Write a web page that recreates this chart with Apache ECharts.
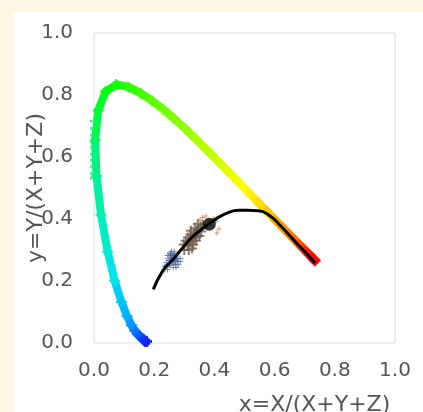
<!DOCTYPE html>
<html><head><meta charset="utf-8">
<script src="https://cdn.jsdelivr.net/npm/echarts@6/dist/echarts.min.js"></script>
<style>html,body{margin:0;padding:0;background:#fef5e3;}#c{width:423px;height:412px;}</style>
</head><body><div id="c"></div>
<script>
// Spectral locus (CIE 1931), wavelength in nm
const wavelengths = [380,385,390,395,400,405,410,415,420,425,430,435,440,445,450,455,460,465,470,475,480,485,490,495,500,505,510,515,520,525,530,535,540,545,550,555,560,565,570,575,580,585,590,595,600,605,610,615,620,625,630,635,640,645,650,655,660,670,680,700];
const locusX = [0.1741,0.1740,0.1738,0.1736,0.1733,0.1730,0.1726,0.1721,0.1714,0.1703,0.1689,0.1669,0.1644,0.1611,0.1566,0.1510,0.1440,0.1355,0.1241,0.1096,0.0913,0.0687,0.0454,0.0235,0.0082,0.0039,0.0139,0.0389,0.0743,0.1142,0.1547,0.1929,0.2296,0.2658,0.3016,0.3373,0.3731,0.4087,0.4441,0.4788,0.5125,0.5448,0.5752,0.6029,0.6270,0.6482,0.6658,0.6801,0.6915,0.7006,0.7079,0.7140,0.7190,0.7230,0.7260,0.7283,0.7300,0.7320,0.7334,0.7347];
const locusY = [0.0050,0.0050,0.0049,0.0049,0.0048,0.0048,0.0048,0.0048,0.0051,0.0058,0.0069,0.0086,0.0109,0.0138,0.0177,0.0227,0.0297,0.0399,0.0578,0.0868,0.1327,0.2007,0.2950,0.4127,0.5384,0.6548,0.7502,0.8120,0.8338,0.8262,0.8059,0.7816,0.7543,0.7243,0.6923,0.6589,0.6245,0.5896,0.5547,0.5202,0.4866,0.4544,0.4242,0.3965,0.3725,0.3514,0.3340,0.3197,0.3083,0.2993,0.2920,0.2859,0.2809,0.2770,0.2740,0.2717,0.2700,0.2680,0.2666,0.2653];
// stray small dots left of the locus
const strayWl = [508,507,506,505,504,503,502,501,500,499];
const strayX = [-0.009,-0.009,-0.009,-0.009,-0.009,-0.009,-0.009,-0.009,-0.009,-0.009];
const strayY = [0.716,0.693,0.671,0.649,0.631,0.609,0.590,0.569,0.547,0.531];
// Black curve
const curveX = [0.197,0.230,0.263,0.297,0.330,0.374,0.408,0.452,0.480,0.507,0.546,0.585,0.618,0.650,0.684,0.710,0.734];
const curveY = [0.173,0.235,0.270,0.310,0.345,0.378,0.402,0.423,0.428,0.428,0.427,0.410,0.380,0.347,0.311,0.285,0.258];
// Black point
const dotX = [0.383];
const dotY = [0.383];
// Sample clusters
const blueX = [0.245,0.255,0.262,0.270,0.258,0.275,0.268,0.250,0.282,0.240,0.262];
const blueY = [0.255,0.262,0.270,0.276,0.285,0.258,0.248,0.278,0.268,0.242,0.290];
const brownX = [0.300,0.310,0.318,0.325,0.332,0.340,0.345,0.315,0.330,0.338,0.305,0.320,0.350,0.355,0.335,0.345,0.312,0.326,0.298,0.340,0.356,0.322,0.362];
const brownY = [0.300,0.315,0.325,0.335,0.345,0.355,0.365,0.300,0.318,0.330,0.330,0.350,0.345,0.375,0.370,0.385,0.340,0.305,0.318,0.340,0.360,0.362,0.380];
const orangeX = [0.360,0.372,0.405,0.415,0.408,0.398,0.352];
const orangeY = [0.405,0.410,0.392,0.368,0.355,0.402,0.396];
const tickValues = [0,0.2,0.4,0.6,0.8,1.0];

// colour of the locus by wavelength
const stops = [[380,'#2010ff'],[450,'#1030ff'],[460,'#0060ff'],[470,'#0090ff'],[480,'#00c0ff'],[485,'#00dcf2'],[490,'#00ecd8'],[495,'#00f0b4'],[500,'#00f094'],[505,'#00f470'],[510,'#00fc30'],[520,'#10ff00'],[530,'#40ff00'],[545,'#80ff00'],[560,'#b8ff00'],[570,'#e0ff00'],[578,'#ffff00'],[585,'#ffe400'],[592,'#ffc400'],[600,'#ff9c00'],[610,'#ff7000'],[620,'#ff4000'],[635,'#ff1000'],[700,'#ff0000']];
function hex(c){return [parseInt(c.substr(1,2),16),parseInt(c.substr(3,2),16),parseInt(c.substr(5,2),16)];}
function colorAt(w){
  if(w<=stops[0][0]) return stops[0][1];
  for(let i=1;i<stops.length;i++){
    if(w<=stops[i][0]){
      const a=hex(stops[i-1][1]), b=hex(stops[i][1]);
      const t=(w-stops[i-1][0])/(stops[i][0]-stops[i-1][0]);
      return 'rgb('+a.map((v,k)=>Math.round(v+(b[k]-v)*t)).join(',')+')';
    }
  }
  return stops[stops.length-1][1];
}

const locusPts = wavelengths.map((w,i)=>[locusX[i],locusY[i],w]);
const segs = [];
for(let i=0;i<locusPts.length-1;i++){
  segs.push({coords:[[locusX[i],locusY[i]],[locusX[i+1],locusY[i+1]]], lineStyle:{color:colorAt((wavelengths[i]+wavelengths[i+1])/2)}});
}
const plus = 'path://M4,0H6V4H10V6H6V10H4V6H0V4H4Z';
const hash = 'path://M3,0H4V3H6V0H7V3H10V4H7V6H10V7H7V10H6V7H4V10H3V7H0V6H3V4H0V3H3ZM4,4V6H6V4Z';
const zip = (a,b)=>a.map((v,i)=>[v,b[i]]);

const chart = echarts.init(document.getElementById('c'), null, {renderer:'canvas'});
const labelFont = {fontFamily:'DejaVu Sans', fontSize:20, color:'#555'};
const nameFont = {fontFamily:'DejaVu Sans', fontSize:22, color:'#555'};
chart.setOption({
  backgroundColor:'#fef5e3',
  animation:false,
  graphic:[{type:'rect', left:13, top:12, shape:{width:410,height:400}, style:{fill:'#ffffff'}, z:-10}],
  grid:{left:94, right:28, top:33, bottom:69, show:true, borderColor:'#dddddd', borderWidth:1, backgroundColor:'transparent', containLabel:false, outerBoundsMode:'none'},
  xAxis:{type:'value', min:0, max:1, interval:0.2,
    axisLine:{show:false}, axisTick:{show:false}, splitLine:{show:false},
    axisLabel:Object.assign({margin:18, formatter:v=>v.toFixed(1)}, labelFont),
    name:'x=X/(X+Y+Z)', nameLocation:'middle', nameGap:51, nameMoveOverlap:false,
    nameTextStyle:Object.assign({padding:[0,0,0,140]}, nameFont)},
  yAxis:{type:'value', min:0, max:1, interval:0.2,
    axisLine:{show:false}, axisTick:{show:false}, splitLine:{show:false},
    axisLabel:Object.assign({margin:21, formatter:v=>v.toFixed(1)}, labelFont),
    name:'y=Y/(X+Y+Z)', nameLocation:'middle', nameGap:47, nameMoveOverlap:false,
    nameTextStyle:nameFont},
  series:[
    {type:'lines', coordinateSystem:'cartesian2d', polyline:false, data:segs, lineStyle:{width:8, opacity:1, cap:'round'}, z:2, silent:true},
    {type:'scatter', data:locusPts, symbol:plus, symbolSize:11, itemStyle:{color:p=>colorAt(p.data[2])}, z:3, clip:false},
    {type:'scatter', data:strayWl.map((w,i)=>[strayX[i],strayY[i],w]), symbol:'rect', symbolSize:2.5, itemStyle:{color:p=>colorAt(p.data[2])}, z:1, clip:false},
    {type:'scatter', data:zip(blueX,blueY), symbol:hash, symbolSize:9, itemStyle:{color:'#42609a'}, z:5},
    {type:'scatter', data:zip(brownX,brownY), symbol:plus, symbolSize:10, itemStyle:{color:'#6e5a4c'}, z:5},
    {type:'scatter', data:zip(orangeX,orangeY), symbol:plus, symbolSize:5, itemStyle:{color:'#cc7a3c'}, z:5},
    {type:'line', data:zip(curveX,curveY), smooth:true, showSymbol:false, lineStyle:{color:'#000', width:3}, z:6},
    {type:'scatter', data:zip(dotX,dotY), symbol:'circle', symbolSize:13, itemStyle:{color:'#000'}, z:7}
  ]
});
</script></body></html>
